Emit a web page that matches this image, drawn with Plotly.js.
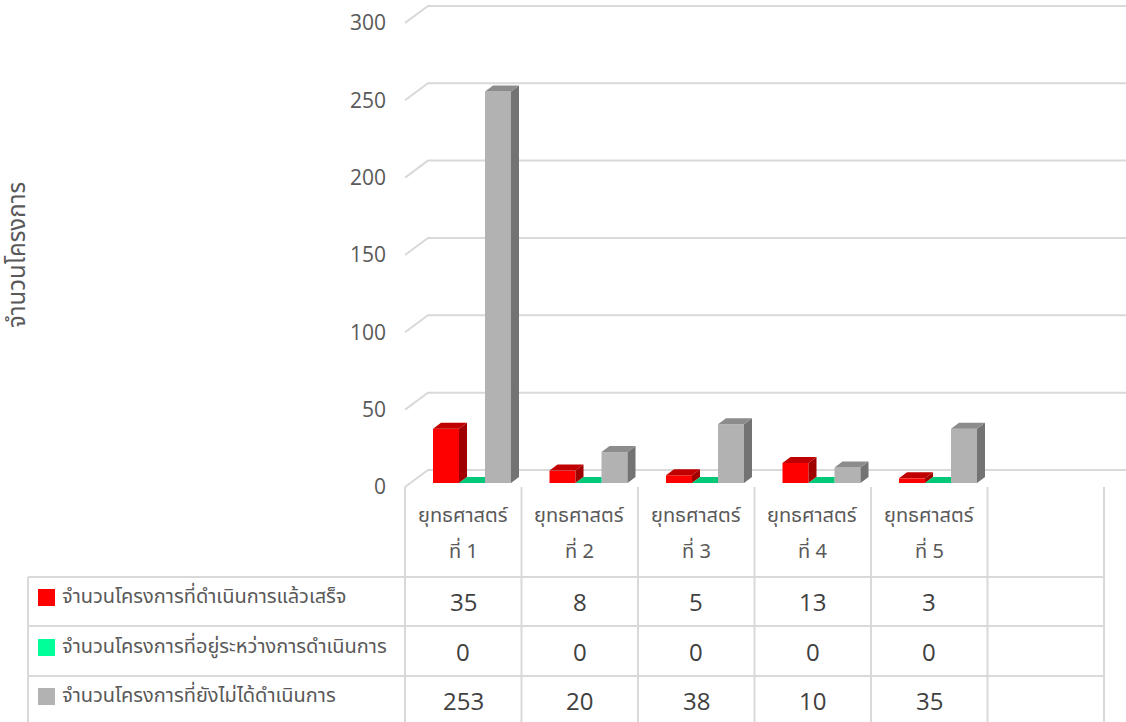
<!DOCTYPE html>
<html><head><meta charset="utf-8">
<script src="https://cdn.plot.ly/plotly-3.0.1.min.js"></script>
<style>html,body{margin:0;padding:0;background:#fff}#c{width:1126px;height:722px}</style>
</head><body><div id="c"></div>
<script>
// ---- data ----
const categories = ["ยุทธศาสตร์ ที่ 1","ยุทธศาสตร์ ที่ 2","ยุทธศาสตร์ ที่ 3","ยุทธศาสตร์ ที่ 4","ยุทธศาสตร์ ที่ 5",""];
const catLine1 = ["ยุทธศาสตร์","ยุทธศาสตร์","ยุทธศาสตร์","ยุทธศาสตร์","ยุทธศาสตร์",""];
const catLine2 = ["ที่ 1","ที่ 2","ที่ 3","ที่ 4","ที่ 5",""];
const seriesNames = ["จำนวนโครงการที่ดำเนินการแล้วเสร็จ","จำนวนโครงการที่อยู่ระหว่างการดำเนินการ","จำนวนโครงการที่ยังไม่ได้ดำเนินการ"];
const done = [35, 8, 5, 13, 3];
const inProgress = [0, 0, 0, 0, 0];
const notStarted = [253, 20, 38, 10, 35];
const yTicks = [0, 50, 100, 150, 200, 250, 300];
const yTitle = "จำนวนโครงการ";

// ---- geometry / style ----
const W = 1126, H = 722;
const X0 = 405, COL = 116.5;            // px of category 0 left, px per category
const Y0 = 483, PPU = 1.547;            // px of value 0 (bars), px per unit
const px2x = p => (p - X0) / COL;
const xRange = [px2x(0), px2x(W)];
const yRange = [-(H - Y0) / PPU, Y0 / PPU];
const BAR_W = 26 / COL, BAR_START = 28 / COL;
const DX = 8 / COL, DY = 6 / PPU;       // bar depth
const series = [
  {name: seriesNames[0], vals: done, front: "#FF0000", top: "#C00000", side: "#A00000", legend: "#FF0000"},
  {name: seriesNames[1], vals: inProgress, front: "#00FF99", top: "#00C878", side: "#00A060", legend: "#00FF99"},
  {name: seriesNames[2], vals: notStarted, front: "#B2B2B2", top: "#8C8C8C", side: "#737373", legend: "#B2B2B2"}
];

const traces = [];
const faceTraces = [];
series.forEach((s, k) => {
  const xc = s.vals.map((v, i) => i + BAR_START + BAR_W * (k + 0.5));
  traces.push({type: "bar", x: xc, y: s.vals, base: 0, width: BAR_W, marker: {color: s.front, line: {width: 0}},
    hoverinfo: "skip", showlegend: false});
  const tx = [], ty = [], sx = [], sy = [];
  s.vals.forEach((v, i) => {
    const xl = i + BAR_START + BAR_W * k, xr = xl + BAR_W;
    const clipR = (k < 2 && s.vals[i] <= (series[k+1].vals[i])) ? xr : xr + DX;
    tx.push(xl, xl + DX, clipR, xr, xl, null);
    ty.push(v, v + DY, v + DY, v, v, null);
    if (v > 0) {
      sx.push(xr, xr + DX, xr + DX, xr, xr, null);
      sy.push(0, DY, v + DY, v, 0, null);
    }
  });
  faceTraces.push({type: "scatter", mode: "lines", x: sx, y: sy, fill: "toself", fillcolor: s.side,
    line: {width: 0, color: s.side}, hoverinfo: "skip", showlegend: false});
  faceTraces.push({type: "scatter", mode: "lines", x: tx, y: ty, fill: "toself", fillcolor: s.top,
    line: {width: 0, color: s.top}, hoverinfo: "skip", showlegend: false});
});

// gridlines (3D: front diagonal + back wall)
const GDX = 23 / COL, FRONT_OFF = -4 / PPU, BACK_OFF = 13 / PPU;
const shapes = [];
const gridC = "#D9D9D9";
yTicks.forEach(v => {
  shapes.push({type: "path", xref: "x", yref: "y", layer: "below",
    path: `M0,${v + FRONT_OFF} L${GDX},${v + BACK_OFF} L${categories.length + GDX + 0.05},${v + BACK_OFF}`,
    line: {color: gridC, width: 2}});
});

// table (paper coords, margins 0)
const px = p => p / W, py = p => 1 - p / H;
const lineC = "#D9D9D9";
const rowY = [577, 626, 676];
const colX = [];
for (let i = 0; i <= categories.length; i++) colX.push(X0 + i * COL);
rowY.forEach(y => shapes.push({type: "line", xref: "paper", yref: "paper", x0: px(28), x1: px(colX[colX.length - 1]), y0: py(y), y1: py(y), line: {color: lineC, width: 2}}));
shapes.push({type: "line", xref: "paper", yref: "paper", x0: px(28), x1: px(28), y0: py(577), y1: py(H + 5), line: {color: lineC, width: 2}});
colX.forEach(x => shapes.push({type: "line", xref: "paper", yref: "paper", x0: px(x), x1: px(x), y0: py(487), y1: py(H + 5), line: {color: lineC, width: 2}}));

const annotations = [];
const thaiFont = "Noto Sans Thai, Tahoma, Leelawadee UI, sans-serif";
categories.forEach((c, i) => {
  const cx = px(X0 + (i + 0.5) * COL);
  annotations.push({xref: "paper", yref: "paper", x: cx, y: py(516), text: catLine1[i], showarrow: false,
    xanchor: "center", yanchor: "middle", font: {family: thaiFont, size: 20, color: "#595959"}});
  annotations.push({xref: "paper", yref: "paper", x: cx, y: py(552), text: catLine2[i], showarrow: false,
    xanchor: "center", yanchor: "middle", font: {family: thaiFont, size: 20, color: "#595959"}});
});
series.forEach((s, k) => {
  const rc = (k === 0 ? 601 : k === 1 ? 651 : 700);
  shapes.push({type: "rect", xref: "paper", yref: "paper", x0: px(38), x1: px(55), y0: py(rc - 12), y1: py(rc + 5), fillcolor: s.legend, line: {width: 0}});
  annotations.push({xref: "paper", yref: "paper", x: px(60), y: py(rc - 4), text: s.name, showarrow: false,
    xanchor: "left", yanchor: "middle", font: {family: thaiFont, size: 20, color: "#595959"}});
  s.vals.forEach((v, i) => {
    annotations.push({xref: "paper", yref: "paper", x: px(X0 + (i + 0.5) * COL), y: py(rc), text: String(v), showarrow: false,
      xanchor: "center", yanchor: "middle", font: {family: "Open Sans, sans-serif", size: 24, color: "#404040"}});
  });
});
annotations.push({xref: "paper", yref: "paper", x: px(18), y: py(255), text: yTitle, textangle: -90, showarrow: false,
  xanchor: "center", yanchor: "middle", font: {family: thaiFont, size: 24, color: "#595959"}});

const layout = {
  width: W, height: H, margin: {l: 0, r: 0, t: 0, b: 0}, paper_bgcolor: "#fff", plot_bgcolor: "rgba(0,0,0,0)",
  showlegend: false, barmode: "overlay",
  xaxis: {range: xRange, visible: false, fixedrange: true},
  yaxis: {range: yRange, anchor: "free", position: X0 / W, showgrid: false, zeroline: false, showline: false,
    tickvals: yTicks.map(v => v + FRONT_OFF), ticktext: yTicks.map(String), ticks: "", ticklabelstandoff: 19,
    tickfont: {family: "Open Sans, sans-serif", size: 21, color: "#595959"}, fixedrange: true},
  shapes, annotations
};
Plotly.newPlot("c", traces.concat(faceTraces), layout, {staticPlot: true, displayModeBar: false});
</script></body></html>
